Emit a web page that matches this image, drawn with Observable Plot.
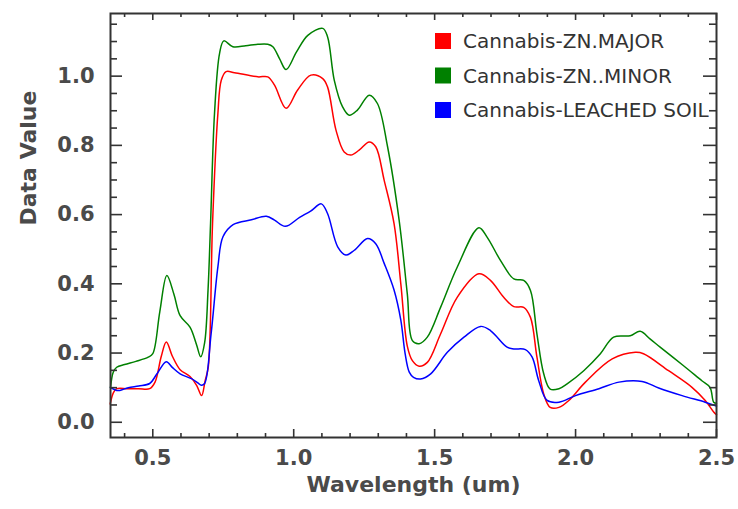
<!DOCTYPE html>
<html><head><meta charset="utf-8">
<script src="https://cdn.jsdelivr.net/npm/d3@7"></script>
<script src="https://cdn.jsdelivr.net/npm/@observablehq/plot@0.6"></script>
<style>
body{margin:0;background:#fff;}
#chart{width:738px;height:509px;}
svg{font-family:"DejaVu Sans",sans-serif;}
</style>
</head><body><div id="chart"></div>
<script>
const seriesNames = ["Cannabis-ZN.MAJOR", "Cannabis-ZN..MINOR", "Cannabis-LEACHED SOIL"];
const seriesColors = ["#ff0000", "#008000", "#0000ff"];

const majorWl  = [0.349,0.36,0.372,0.41,0.45,0.489,0.508,0.53,0.548,0.57,0.597,0.632,0.656,0.673,0.686,0.697,0.712,0.731,0.743,0.76,0.79,0.873,0.908,0.932,0.973,1.014,1.061,1.103,1.12,1.15,1.179,1.203,1.232,1.268,1.291,1.321,1.356,1.38,1.403,1.421,1.445,1.474,1.521,1.58,1.657,1.698,1.745,1.781,1.816,1.84,1.863,1.887,1.91,1.941,1.976,2.035,2.13,2.212,2.241,2.33,2.413,2.46,2.49,2.5];
const majorVal = [0.053,0.085,0.097,0.097,0.097,0.097,0.116,0.19,0.232,0.19,0.152,0.132,0.106,0.077,0.121,0.16,0.574,0.892,0.988,1.013,1.01,0.998,0.998,0.974,0.907,0.96,1.003,0.993,0.969,0.844,0.781,0.772,0.786,0.81,0.796,0.699,0.574,0.40,0.22,0.178,0.162,0.173,0.255,0.361,0.429,0.41,0.361,0.334,0.332,0.303,0.188,0.082,0.043,0.043,0.063,0.116,0.183,0.202,0.198,0.149,0.101,0.063,0.03,0.022];

const minorWl  = [0.35,0.36,0.372,0.40,0.44,0.484,0.50,0.525,0.55,0.575,0.597,0.632,0.655,0.67,0.684,0.696,0.705,0.719,0.737,0.752,0.784,0.83,0.873,0.908,0.926,0.95,0.973,1.01,1.05,1.103,1.12,1.144,1.173,1.197,1.226,1.268,1.297,1.333,1.374,1.403,1.421,1.445,1.474,1.521,1.58,1.657,1.686,1.734,1.781,1.816,1.84,1.863,1.887,1.91,1.941,1.97,2.029,2.088,2.135,2.194,2.229,2.264,2.3,2.382,2.448,2.477,2.49,2.5];
const minorVal = [0.10,0.145,0.159,0.167,0.176,0.188,0.198,0.32,0.424,0.37,0.308,0.275,0.225,0.189,0.23,0.381,0.574,0.892,1.066,1.102,1.085,1.088,1.092,1.092,1.085,1.05,1.019,1.07,1.118,1.138,1.114,0.988,0.912,0.887,0.902,0.945,0.921,0.796,0.584,0.371,0.236,0.227,0.246,0.332,0.448,0.562,0.535,0.467,0.414,0.41,0.381,0.255,0.14,0.096,0.097,0.111,0.149,0.198,0.246,0.25,0.263,0.241,0.217,0.164,0.12,0.101,0.058,0.055];

const soilWl  = [0.35,0.372,0.383,0.413,0.45,0.489,0.515,0.548,0.57,0.597,0.637,0.66,0.672,0.684,0.707,0.731,0.749,0.785,0.85,0.903,0.932,0.97,1.021,1.06,1.098,1.12,1.156,1.185,1.215,1.262,1.291,1.321,1.356,1.38,1.395,1.41,1.425,1.45,1.486,1.545,1.604,1.663,1.698,1.757,1.781,1.822,1.846,1.869,1.899,1.941,2.0,2.083,2.154,2.236,2.295,2.378,2.46,2.5];
const soilVal = [0.10,0.092,0.092,0.10,0.105,0.112,0.14,0.175,0.158,0.14,0.126,0.114,0.107,0.112,0.256,0.449,0.536,0.571,0.585,0.595,0.584,0.566,0.592,0.61,0.631,0.603,0.507,0.483,0.497,0.531,0.516,0.459,0.382,0.295,0.2,0.145,0.13,0.125,0.14,0.202,0.246,0.277,0.265,0.217,0.212,0.21,0.188,0.121,0.063,0.058,0.077,0.097,0.116,0.118,0.099,0.077,0.058,0.047];

const xTickLabels = [0.5, 1.0, 1.5, 2.0, 2.5];
const xMinorTicks = [0.4,0.6,0.7,0.8,0.9,1.1,1.2,1.3,1.4,1.6,1.7,1.8,1.9,2.1,2.2,2.3,2.4];
const yTickLabels = [0.0, 0.2, 0.4, 0.6, 0.8, 1.0];
const yMinorTicks = [0.05,0.1,0.15,0.25,0.3,0.35,0.45,0.5,0.55,0.65,0.7,0.75,0.85,0.9,0.95,1.05,1.1,1.15];

const xLabel = "Wavelength (um)";
const yLabel = "Data Value";

const rows = [];
[[majorWl, majorVal], [minorWl, minorVal], [soilWl, soilVal]].forEach(([w, v], i) => {
  w.forEach((x, j) => rows.push({series: seriesNames[i], wl: x, v: v[j]}));
});

const W = 738, H = 509, mL = 110, mT = 13, mR = 22, mB = 72;
const iW = W - mL - mR, iH = H - mT - mB;
const axisColor = "#333";
const labelColor = "#4a4a4a";
const tw = 1.6;

const plot = Plot.plot({
  width: W, height: H,
  marginLeft: mL, marginTop: mT, marginRight: mR, marginBottom: mB,
  style: {fontFamily: "DejaVu Sans, sans-serif", background: "#fff"},
  x: {domain: [0.35, 2.5]},
  y: {domain: [-0.044, 1.181]},
  color: {domain: seriesNames, range: seriesColors},
  marks: [
    Plot.line(rows, {x: "wl", y: "v", z: "series", stroke: "series", curve: "catmull-rom", strokeWidth: 1.5}),
    // bottom ticks
    Plot.tickX(xTickLabels, {x: d => d, insetTop: iH - 8, stroke: axisColor, strokeWidth: tw}),
    Plot.tickX(xMinorTicks, {x: d => d, insetTop: iH - 4, stroke: axisColor, strokeWidth: tw}),
    // top ticks
    Plot.tickX(xTickLabels, {x: d => d, insetBottom: iH - 7, stroke: axisColor, strokeWidth: tw}),
    Plot.tickX(xMinorTicks, {x: d => d, insetBottom: iH - 4, stroke: axisColor, strokeWidth: tw}),
    // left ticks
    Plot.tickY(yTickLabels, {y: d => d, insetRight: iW - 12, stroke: axisColor, strokeWidth: tw}),
    Plot.tickY(yMinorTicks, {y: d => d, insetRight: iW - 7, stroke: axisColor, strokeWidth: tw}),
    // right ticks
    Plot.tickY(yTickLabels, {y: d => d, insetLeft: iW - 13, stroke: axisColor, strokeWidth: tw}),
    Plot.tickY(yMinorTicks, {y: d => d, insetLeft: iW - 7, stroke: axisColor, strokeWidth: tw}),
    Plot.frame({stroke: axisColor, strokeWidth: 2}),
    Plot.axisX({ticks: xTickLabels, tickSize: 0, tickPadding: 13, tickFormat: d3.format(".1f"), fontSize: 21, fontWeight: "bold", fill: labelColor, label: null}),
    Plot.axisY({ticks: yTickLabels, tickSize: 0, tickPadding: 16, tickFormat: d3.format(".1f"), fontSize: 21, fontWeight: "bold", fill: labelColor, label: null}),
    Plot.text([xLabel], {text: d => d, frameAnchor: "bottom", dy: 54, fontSize: 22, fontWeight: "bold", fill: labelColor}),
    Plot.text([yLabel], {text: d => d, frameAnchor: "left", dx: -82, rotate: -90, fontSize: 22, fontWeight: "bold", fill: labelColor})
  ]
});

document.getElementById("chart").appendChild(plot);

// legend inside the plot area, top right
const svg = d3.select(plot);
const lg = svg.append("g").attr("transform", `translate(${435},${33})`).attr("text-anchor", "start");
seriesNames.forEach((name, i) => {
  const g = lg.append("g").attr("transform", `translate(0,${i * 34.5})`);
  g.append("rect").attr("width", 16).attr("height", 16).attr("fill", seriesColors[i]);
  g.append("text").attr("x", 28).attr("y", 8).attr("dy", "0.36em")
    .attr("text-anchor", "start")
    .attr("font-size", 20).attr("fill", "#333").attr("font-family", "DejaVu Sans, sans-serif")
    .text(name);
});
</script>
</body></html>
